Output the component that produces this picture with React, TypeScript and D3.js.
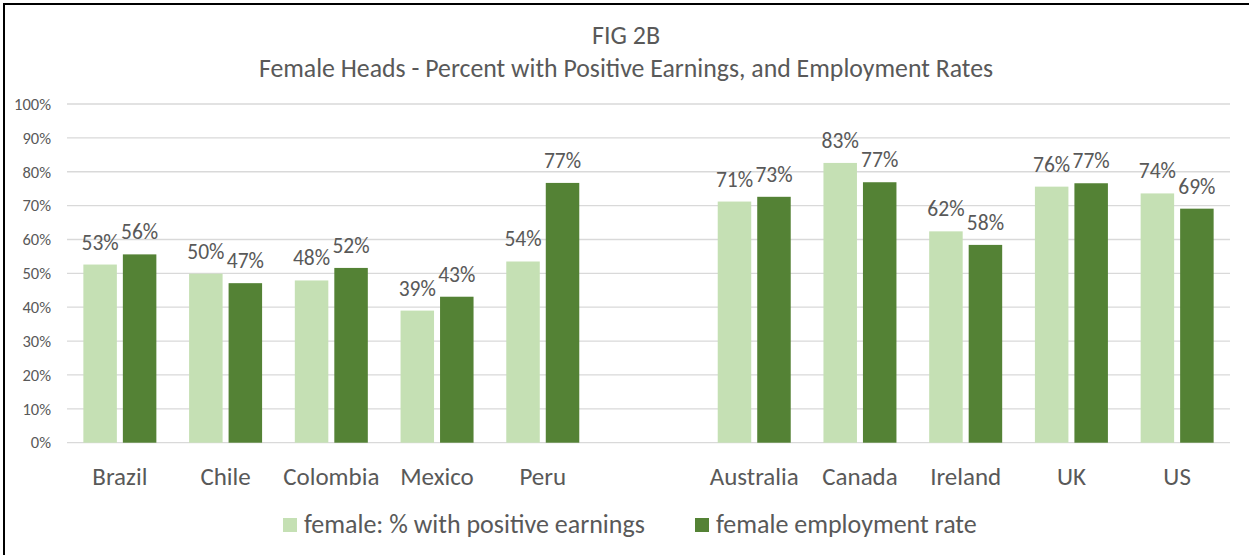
import React from "react";
import * as d3 from "d3";

const categories = ["Brazil", "Chile", "Colombia", "Mexico", "Peru", "", "Australia", "Canada", "Ireland", "UK", "US"];
const positiveEarnings = [52.6, 49.9, 47.9, 39.0, 53.5, null, 71.2, 82.6, 62.4, 75.6, 73.6];
const employmentRate = [55.6, 47.1, 51.6, 43.1, 76.7, null, 72.6, 76.9, 58.4, 76.6, 69.1];
const yTicks = [0, 10, 20, 30, 40, 50, 60, 70, 80, 90, 100];
const seriesNames = ["female: % with positive earnings", "female employment rate"];
const seriesColors = ["#C5E0B4", "#548235"];

const W = 1249;
const H = 555;
const FONT = "Carlito, Calibri, Lato, 'Open Sans', sans-serif";
const TXT = "#595959";

export default function App() {
  const keys = categories.map((c, i) => c || "gap" + i);
  const x = d3.scaleBand<string>().domain(keys).range([67, 1230]).paddingInner(0).paddingOuter(0);
  const y = d3.scaleLinear().domain([0, 100]).range([442.7, 104]);
  const bw = x.bandwidth();
  const barW = 33.5;
  const gap = 6;
  const series = [positiveEarnings, employmentRate];
  const legendX = [283, 695];

  return (
    <svg width={W} height={H} style={{ position: "absolute", left: 0, top: 0, background: "#fff" }} fontFamily={FONT}>
      <rect x={0} y={0} width={W} height={H} fill="#fff" />
      <line x1={4} y1={3} x2={4} y2={H} stroke="#000" strokeWidth={2} />
      <line x1={3} y1={4} x2={W} y2={4} stroke="#000" strokeWidth={2} />
      <text x={626} y={44} textAnchor="middle" fontSize={26} fill={TXT}>FIG 2B</text>
      <text x={626} y={77} textAnchor="middle" fontSize={25.8} fill={TXT}>Female Heads - Percent with Positive Earnings, and Employment Rates</text>
      {yTicks.map((t) => (
        <g key={t}>
          <line x1={67} x2={1230} y1={y(t)} y2={y(t)} stroke="#D9D9D9" strokeWidth={1.3} />
          <text x={51} y={y(t)} dy="0.35em" textAnchor="end" fontSize={16.5} fill={TXT}>{t + "%"}</text>
        </g>
      ))}
      {keys.map((k, i) => {
        const cx = (x(k) as number) + bw / 2;
        return (
          <g key={k}>
            {series.map((s, si) => {
              const v = s[i];
              if (v == null) return null;
              const bx = si === 0 ? cx - gap / 2 - barW : cx + gap / 2;
              return (
                <g key={si}>
                  <rect x={bx} y={y(v)} width={barW} height={y(0) - y(v)} fill={seriesColors[si]} />
                  <text x={bx + barW / 2} y={y(v) - 15} textAnchor="middle" fontSize={21.5} fill={TXT}>
                    {Math.round(v) + "%"}
                  </text>
                </g>
              );
            })}
            {categories[i] && (
              <text x={cx} y={485} textAnchor="middle" fontSize={25} fill={TXT}>{categories[i]}</text>
            )}
          </g>
        );
      })}
      {seriesNames.map((n, i) => (
        <g key={n}>
          <rect x={legendX[i]} y={518} width={14} height={14} fill={seriesColors[i]} />
          <text x={legendX[i] + 21} y={533} fontSize={26} fill={TXT}>{n}</text>
        </g>
      ))}
    </svg>
  );
}
